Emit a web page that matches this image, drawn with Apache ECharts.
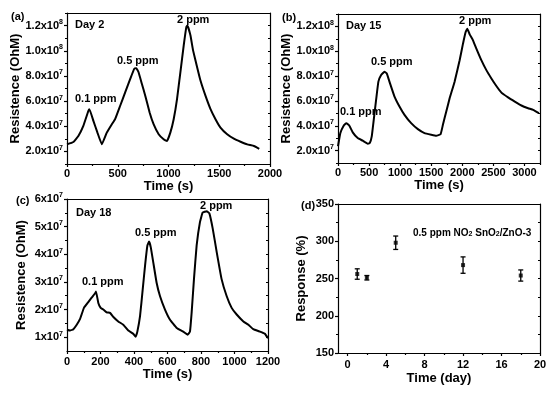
<!DOCTYPE html>
<html><head><meta charset="utf-8">
<script src="https://cdn.jsdelivr.net/npm/echarts@6/dist/echarts.min.js"></script>
<style>html,body{margin:0;padding:0;background:#fff}#c{width:554px;height:393px}</style>
</head><body><div id="c"></div>
<script>
// ---------- DATA ----------
// Panel (a) Day 2
const timeA = [0,63,112,161,211,221,260,300,343,392,442,474,524,573,623,662,682,705,738,771,814,853,903,952,985,1018,1051,1084,1117,1150,1176,1186,1216,1242,1282,1315,1364,1414,1463,1512,1578,1644,1710,1776,1842,1894];
const resA  = [2.56e7,2.75e7,3.23e7,4.03e7,5.23e7,5.36e7,4.43e7,3.49e7,2.56e7,3.49e7,4.16e7,4.56e7,5.63e7,6.69e7,7.76e7,8.56e7,8.61e7,8.29e7,7.36e7,6.43e7,5.09e7,4.16e7,3.36e7,2.96e7,2.83e7,3.49e7,4.56e7,6.16e7,8.29e7,1.043e8,1.19e8,1.2e8,1.123e8,1.003e8,8.69e7,7.63e7,6.43e7,5.36e7,4.56e7,3.89e7,3.36e7,3.01e7,2.77e7,2.56e7,2.43e7,2.21e7];
// Panel (b) Day 15
const timeB = [0,38,91,134,183,237,317,398,478,511,543,575,613,650,694,747,785,828,909,989,1070,1177,1285,1392,1500,1581,1650,1688,1742,1796,1876,1957,2011,2054,2081,2118,2172,2226,2306,2387,2468,2548,2629,2736,2844,2951,3059,3140,3231];
const resB  = [2.35e7,3.41e7,4.0e7,4.21e7,4.0e7,3.47e7,3.01e7,2.8e7,2.56e7,2.61e7,3.15e7,4.48e7,6.08e7,7.55e7,8.08e7,8.35e7,8.21e7,7.55e7,6.35e7,5.55e7,4.88e7,4.21e7,3.73e7,3.41e7,3.28e7,3.2e7,3.31e7,4.08e7,5.15e7,6.21e7,7.55e7,9.28e7,1.061e8,1.155e8,1.181e8,1.136e8,1.088e8,1.021e8,9.28e7,8.48e7,7.81e7,7.2e7,6.67e7,6.29e7,5.95e7,5.63e7,5.41e7,5.28e7,5.01e7];
// Panel (c) Day 18
const timeC = [0,18,38,58,78,101,127,147,167,173,187,201,217,237,257,277,306,336,366,396,410,420,436,452,466,480,490,500,515,535,555,585,615,655,694,720,734,744,758,774,794,810,834,850,870,894,923,953,983,1013,1053,1083,1112,1152,1182,1200];
const resC  = [1.27e7,1.24e7,1.29e7,1.45e7,1.66e7,2.06e7,2.27e7,2.43e7,2.58e7,2.65e7,2.24e7,2.06e7,2.0e7,1.9e7,1.88e7,1.73e7,1.57e7,1.45e7,1.24e7,1.12e7,1.02e7,1.2e7,1.76e7,2.73e7,3.59e7,4.32e7,4.46e7,4.26e7,3.71e7,2.97e7,2.49e7,2.0e7,1.63e7,1.33e7,1.2e7,1.09e7,1.2e7,1.88e7,3.1e7,4.32e7,5.17e7,5.51e7,5.56e7,5.48e7,4.93e7,4.07e7,3.1e7,2.49e7,2.06e7,1.82e7,1.57e7,1.45e7,1.29e7,1.2e7,1.12e7,0.96e7];
// Panel (d) response vs day
const daysD = [1,2,5,12,18];
const respD = [256,251,298,268,254];
const errD  = [7,3,9,11,7.5];

// tick values
const xTicksA = [0,500,1000,1500,2000];
const xTicksB = [0,500,1000,1500,2000,2500,3000];
const xTicksC = [0,200,400,600,800,1000,1200];
const xTicksD = [0,4,8,12,16,20];
const yTicksAB = [2e7,4e7,6e7,8e7,1e8,1.2e8];
const yTicksC = [1e7,2e7,3e7,4e7,5e7,6e7];
const yTicksD = [150,200,250,300,350];
const xMinorA = [250,750,1250,1750];
const xMinorB = [250,750,1250,1750,2250,2750,3250];
const xMinorC = [100,300,500,700,900,1100];
const xMinorD = [2,6,10,14,18];
const yMinorAB = [1e7,3e7,5e7,7e7,9e7,1.1e8,1.3e8];
const yMinorC = [1.5e7,2.5e7,3.5e7,4.5e7,5.5e7];
const yMinorD = [175,225,275,325];

// ---------- CHART ----------
const FONT = '"Liberation Sans", Arial, sans-serif';
const sci1 = v => { const e = Math.floor(Math.log10(v) + 1e-9); return '{m|' + (v / Math.pow(10, e)).toFixed(1) + 'x10}{s|' + e + '}'; };
const sci0 = v => { const e = Math.floor(Math.log10(v) + 1e-9); return '{m|' + (v / Math.pow(10, e)).toFixed(0) + 'x10}{s|' + e + '}'; };
const richSci = {
  m: {fontSize: 11, fontWeight: 'bold', color: '#000', fontFamily: FONT, lineHeight: 14},
  s: {fontSize: 7, fontWeight: 'bold', color: '#000', fontFamily: FONT, verticalAlign: 'top', lineHeight: 8}
};
const lineStyle = {color: '#000', width: 1.2};
const grids = [], xAxes = [], yAxes = [];

function panel(g, cfg) {
  grids.push(cfg.grid);
  const xi = xAxes.length, yi = yAxes.length;
  xAxes.push({gridIndex: g, type: 'value', min: cfg.x.min, max: cfg.x.max, position: 'bottom',
    axisLine: {show: true, onZero: false, lineStyle}, splitLine: {show: false},
    axisTick: {show: true, length: 3, inside: false, lineStyle, customValues: cfg.x.ticks},
    axisLabel: {show: true, customValues: cfg.x.ticks, margin: cfg.x.margin, formatter: v => String(v),
      fontSize: 11, fontWeight: 'bold', color: '#000', fontFamily: FONT},
    name: cfg.x.name, nameLocation: 'middle', nameGap: cfg.x.nameGap,
    nameTextStyle: {fontSize: 13, fontWeight: 'bold', color: '#000', fontFamily: FONT}});
  xAxes.push({gridIndex: g, type: 'value', min: cfg.x.min, max: cfg.x.max, position: 'bottom',
    axisLine: {show: false, onZero: false}, splitLine: {show: false}, axisLabel: {show: false},
    axisTick: {show: true, length: 2, lineStyle, customValues: cfg.x.minor}});
  xAxes.push({gridIndex: g, type: 'value', min: cfg.x.min, max: cfg.x.max, position: 'top',
    axisLine: {show: true, onZero: false, lineStyle}, splitLine: {show: false}, axisLabel: {show: false}, axisTick: {show: false}});
  yAxes.push({gridIndex: g, type: 'value', min: cfg.y.min, max: cfg.y.max, position: 'left',
    axisLine: {show: true, onZero: false, lineStyle}, splitLine: {show: false},
    axisTick: {show: true, length: 3, lineStyle, customValues: cfg.y.ticks},
    axisLabel: {show: true, customValues: cfg.y.ticks, margin: 4, formatter: cfg.y.fmt, rich: richSci,
      fontSize: 11, fontWeight: 'bold', color: '#000', fontFamily: FONT},
    name: cfg.y.name, nameLocation: 'middle', nameGap: cfg.y.nameGap,
    nameTextStyle: {fontSize: 13, fontWeight: 'bold', color: '#000', fontFamily: FONT}});
  yAxes.push({gridIndex: g, type: 'value', min: cfg.y.min, max: cfg.y.max, position: 'left',
    axisLine: {show: false, onZero: false}, splitLine: {show: false}, axisLabel: {show: false},
    axisTick: {show: true, length: 2, lineStyle, customValues: cfg.y.minor}});
  yAxes.push({gridIndex: g, type: 'value', min: cfg.y.min, max: cfg.y.max, position: 'right',
    axisLine: {show: true, onZero: false, lineStyle}, splitLine: {show: false}, axisLabel: {show: false},
    axisTick: {show: true, inside: true, length: 2, lineStyle, customValues: cfg.y.ticks.concat(cfg.y.minor)}});
  return {xi, yi};
}

const zip = (a, b) => a.map((v, i) => [v, b[i]]);

const pA = panel(0, {grid: {left: 67, right: 284, top: 13, bottom: 229},
  x: {min: 0, max: 2000, ticks: xTicksA, minor: xMinorA, name: 'Time (s)', nameGap: 13, margin: 4},
  y: {min: 1e7, max: 1.3e8, ticks: yTicksAB, minor: yMinorAB, fmt: sci1, name: 'Resistence (OhM)', nameGap: 42}});
const pB = panel(1, {grid: {left: 338, right: 14, top: 14, bottom: 230},
  x: {min: 0, max: 3250, ticks: xTicksB, minor: xMinorB, name: 'Time (s)', nameGap: 15, margin: 4},
  y: {min: 1e7, max: 1.3e8, ticks: yTicksAB, minor: yMinorAB, fmt: sci1, name: 'Resistence (OhM)', nameGap: 40}});
const pC = panel(2, {grid: {left: 67, right: 286, top: 199, bottom: 42},
  x: {min: 0, max: 1200, ticks: xTicksC, minor: xMinorC, name: 'Time (s)', nameGap: 16, margin: 5},
  y: {min: 5e6, max: 6e7, ticks: yTicksC, minor: yMinorC, fmt: sci0, name: 'Resistence (OhM)', nameGap: 39}});
const pD = panel(3, {grid: {left: 338, right: 14, top: 204, bottom: 40},
  x: {min: -1, max: 20, ticks: xTicksD, minor: xMinorD, name: 'Time (day)', nameGap: 19, margin: 6},
  y: {min: 150, max: 350, ticks: yTicksD, minor: yMinorD, fmt: v => '{m|' + v + '}', name: 'Response (%)', nameGap: 30}});

const curve = (p, t, r) => ({type: 'line', xAxisIndex: p.xi, yAxisIndex: p.yi, data: zip(t, r),
  showSymbol: false, symbol: 'none', smooth: 0.1, lineStyle: {color: '#000', width: 2}, silent: true, animation: false});

const series = [
  curve(pA, timeA, resA), curve(pB, timeB, resB), curve(pC, timeC, resC),
  {type: 'custom', xAxisIndex: pD.xi, yAxisIndex: pD.yi, animation: false,
    data: daysD.map((d, i) => [d, respD[i], errD[i]]),
    renderItem: (params, api) => {
      const x = api.value(0), y = api.value(1), e = api.value(2);
      const t = api.coord([x, y + e]), b = api.coord([x, y - e]);
      const st = {stroke: '#000', lineWidth: 1.3};
      return {type: 'group', children: [
        {type: 'line', shape: {x1: t[0], y1: t[1], x2: b[0], y2: b[1]}, style: st},
        {type: 'line', shape: {x1: t[0] - 2.5, y1: t[1], x2: t[0] + 2.5, y2: t[1]}, style: st},
        {type: 'line', shape: {x1: b[0] - 2.5, y1: b[1], x2: b[0] + 2.5, y2: b[1]}, style: st}
      ]};
    }},
  {type: 'scatter', xAxisIndex: pD.xi, yAxisIndex: pD.yi, data: zip(daysD, respD), symbol: 'rect', symbolSize: 4,
    itemStyle: {color: '#000'}, animation: false}
];

const txt = (x, y, text, size, extra) => Object.assign({type: 'text', left: x, top: y,
  style: {text, fontSize: size || 11, fontWeight: 'bold', fill: '#000', fontFamily: FONT}}, extra || {});

const graphic = [
  txt(11, 11, '(a)', 11), txt(282, 12, '(b)', 11), txt(16, 195, '(c)', 11), txt(301, 200, '(d)', 11),
  txt(75, 19, 'Day 2', 11), txt(75, 93, '0.1 ppm', 11), txt(117, 55, '0.5 ppm', 11), txt(177, 14, '2 ppm', 11),
  txt(346, 20, 'Day 15', 11), txt(340, 106, '0.1 ppm', 11), txt(371, 56, '0.5 ppm', 11), txt(459, 15, '2 ppm', 11),
  txt(76, 207, 'Day 18', 11), txt(82, 276, '0.1 ppm', 11), txt(135, 227, '0.5 ppm', 11), txt(200, 200, '2 ppm', 11),
  {type: 'text', left: 413, top: 227, style: {text: '0.5 ppm NO{b|2} SnO{b|2}/ZnO-3', fontSize: 10, fontWeight: 'bold', fill: '#000', fontFamily: FONT,
    rich: {b: {fontSize: 7, fontWeight: 'bold', fill: '#000', fontFamily: FONT, verticalAlign: 'bottom', lineHeight: 8, padding: [4, 0, 0, 0]}}}}
];

const chart = echarts.init(document.getElementById('c'), null, {renderer: 'canvas'});
chart.setOption({backgroundColor: '#fff', animation: false, grid: grids, xAxis: xAxes, yAxis: yAxes, series, graphic,
  textStyle: {fontFamily: FONT}});
</script></body></html>
